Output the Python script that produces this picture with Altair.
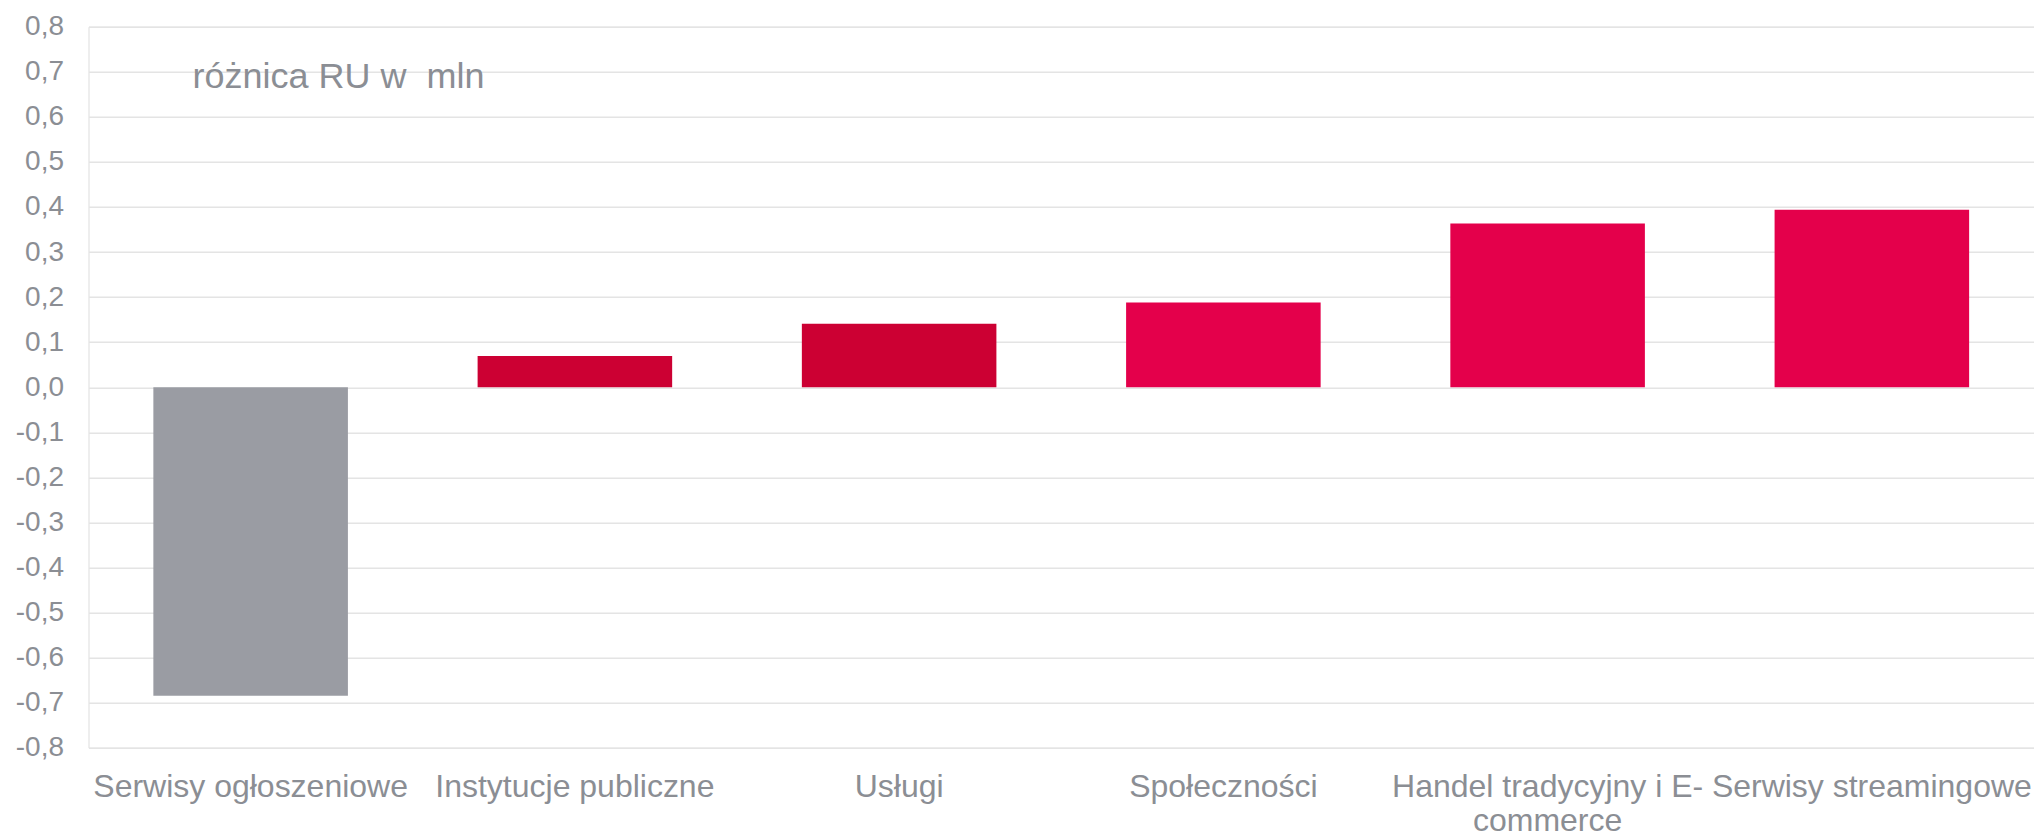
import altair as alt
import pandas as pd

categories = [
    "Serwisy ogłoszeniowe",
    "Instytucje publiczne",
    "Usługi",
    "Społeczności",
    "Handel tradycyjny i E-commerce",
    "Serwisy streamingowe",
]
values = [-0.685, 0.069, 0.141, 0.188, 0.363, 0.394]
bar_colors = ["#9A9CA3", "#CC0033", "#CC0033", "#E4004B", "#E4004B", "#E4004B"]
y_ticks = [-0.8, -0.7, -0.6, -0.5, -0.4, -0.3, -0.2, -0.1, 0.0,
           0.1, 0.2, 0.3, 0.4, 0.5, 0.6, 0.7, 0.8]
title_text = "różnica RU w\u00a0\u00a0mln"

TEXT = "#8B8E94"
FONT = "Liberation Sans"

df = pd.DataFrame({"cat": categories, "val": values})

bars = alt.Chart(df).mark_bar().encode(
    x=alt.X(
        "cat:N",
        sort=categories,
        title=None,
        scale=alt.Scale(paddingInner=0.4, paddingOuter=0.2),
        axis=alt.Axis(
            labelFontSize=32,
            labelColor=TEXT,
            labelFont=FONT,
            labelPadding=24,
            labelLimit=500,
            labelOverlap=False,
            labelAngle=0,
            labelLineHeight=34,
            labelExpr="datum.label == 'Handel tradycyjny i E-commerce' ? ['Handel tradycyjny i E-', 'commerce'] : datum.label",
            ticks=False,
            domain=False,
            grid=False,
        ),
    ),
    y=alt.Y(
        "val:Q",
        title=None,
        scale=alt.Scale(domain=[-0.8, 0.8], nice=False, zero=True),
        axis=alt.Axis(
            values=y_ticks,
            labelExpr="replace(replace(format(datum.value, '.1f'), '.', ','), '\u2212', '-')",
            labelFontSize=28,
            labelColor=TEXT,
            labelFont=FONT,
            labelPadding=25,
            ticks=False,
            domain=False,
            grid=True,
            gridColor="#E4E4E4",
            gridWidth=1.5,
        ),
    ),
    color=alt.Color(
        "cat:N",
        scale=alt.Scale(domain=categories, range=bar_colors),
        legend=None,
    ),
)

label = alt.Chart(pd.DataFrame({"t": [title_text]})).mark_text(
    align="left",
    baseline="alphabetic",
    fontSize=36,
    font=FONT,
    color=TEXT,
).encode(
    x=alt.value(104),
    y=alt.value(61),
    text="t:N",
)

chart = (
    alt.layer(bars, label)
    .properties(
        width=1945.5,
        height=721,
        autosize=alt.AutoSizeParams(type="none"),
        padding={"left": 80.5, "top": 18.7, "right": 0, "bottom": 88},
    )
    .configure_view(stroke=None)
    .configure(background="white")
)

chart.save("out.html", embed_options={"renderer": "svg", "actions": False})
